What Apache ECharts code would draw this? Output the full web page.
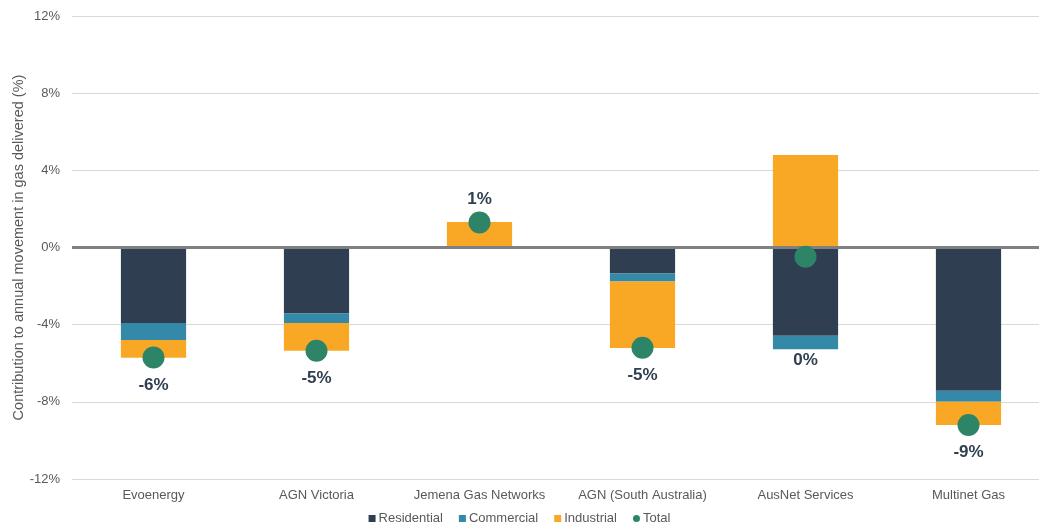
<!DOCTYPE html>
<html>
<head>
<meta charset="utf-8">
<script src="https://cdn.jsdelivr.net/npm/echarts@6/dist/echarts.min.js"></script>
<style>
  html, body { margin: 0; padding: 0; background: #fff; }
  #chart { width: 1039px; height: 531px; }
</style>
</head>
<body>
<div id="chart"></div>
<script>
// Contribution to annual movement in gas delivered, by customer class (%)
const categories = ['Evoenergy', 'AGN Victoria', 'Jemena Gas Networks', 'AGN (South Australia)', 'AusNet Services', 'Multinet Gas'];
const residential = [-3.92, -3.42, 0.05, -1.35, -4.58, -7.42];
const commercial  = [-0.87, -0.50, 0.02, -0.41, -0.69, -0.57];
const industrial  = [-0.92, -1.43, 1.25, -3.45, 4.79, -1.21];
const total       = [-5.70, -5.35, 1.30, -5.20, -0.48, -9.20];
const yTicks = [-12, -8, -4, 0, 4, 8, 12];

const FONT = '"Liberation Sans", Arial, sans-serif';
const COLORS = { residential: '#2F3E50', commercial: '#3589A8', industrial: '#F9A826', total: '#2E8466' };

const pctLabel = v => {
  const r = Math.round(v);
  return (r === 0 ? 0 : r) + '%';
};

// Total markers: label sits above positive totals and below negative ones;
// the AusNet label is pushed clear of its bar.
const totalData = total.map((v, i) => {
  const item = { value: v, label: { position: v >= 0 ? 'top' : 'bottom', distance: v >= 0 ? 4 : 8 } };
  if (categories[i] === 'AusNet Services') item.label.offset = [0, 76];
  return item;
});

const chart = echarts.init(document.getElementById('chart'), null, { renderer: 'canvas' });
chart.setOption({
  animation: false,
  textStyle: { fontFamily: FONT },
  grid: { left: 72, top: 16, right: -11, bottom: 52, containLabel: false, outerBoundsMode: 'none' },
  legend: {
    bottom: 1,
    left: 'center',
    itemGap: 16,
    itemWidth: 7,
    itemHeight: 7,
    textStyle: { fontFamily: FONT, fontSize: 13, color: '#595959', padding: [0, 0, 0, -2] },
    data: [
      { name: 'Residential', icon: 'rect' },
      { name: 'Commercial', icon: 'rect' },
      { name: 'Industrial', icon: 'rect' },
      { name: 'Total', icon: 'circle' }
    ]
  },
  xAxis: {
    type: 'category',
    data: categories,
    axisLine: { show: false },
    axisTick: { show: false },
    axisLabel: { fontFamily: FONT, fontSize: 13, color: '#595959', margin: 10, interval: 0 },
    position: 'bottom'
  },
  yAxis: {
    type: 'value',
    min: yTicks[0],
    max: yTicks[yTicks.length - 1],
    interval: 4,
    name: 'Contribution to annual movement in gas delivered (%)',
    nameLocation: 'middle',
    nameGap: 46,
    nameMoveOverlap: false,
    nameTextStyle: { fontFamily: FONT, fontSize: 14.5, color: '#595959' },
    axisLine: { show: false },
    axisTick: { show: false },
    axisLabel: { fontFamily: FONT, fontSize: 13, color: '#595959', margin: 12, formatter: v => v + '%' },
    splitLine: { lineStyle: { color: '#D9D9D9', width: 1 } }
  },
  series: [
    {
      name: 'Residential', type: 'bar', stack: 'mix', data: residential,
      barWidth: '40%', itemStyle: { color: COLORS.residential },
      markLine: {
        silent: true, symbol: 'none', label: { show: false },
        lineStyle: { color: '#808080', width: 3, type: 'solid' },
        data: [{ yAxis: 0 }], z: 5
      }
    },
    { name: 'Commercial', type: 'bar', stack: 'mix', data: commercial, itemStyle: { color: COLORS.commercial } },
    { name: 'Industrial', type: 'bar', stack: 'mix', data: industrial, itemStyle: { color: COLORS.industrial } },
    {
      name: 'Total', type: 'scatter', data: totalData, symbolSize: 22, z: 10,
      itemStyle: { color: COLORS.total, opacity: 1 },
      label: {
        show: true, fontFamily: FONT, fontSize: 17, fontWeight: 'bold', color: '#2F3E50', opacity: 1,
        formatter: p => pctLabel(p.value)
      }
    }
  ]
});
</script>
</body>
</html>
